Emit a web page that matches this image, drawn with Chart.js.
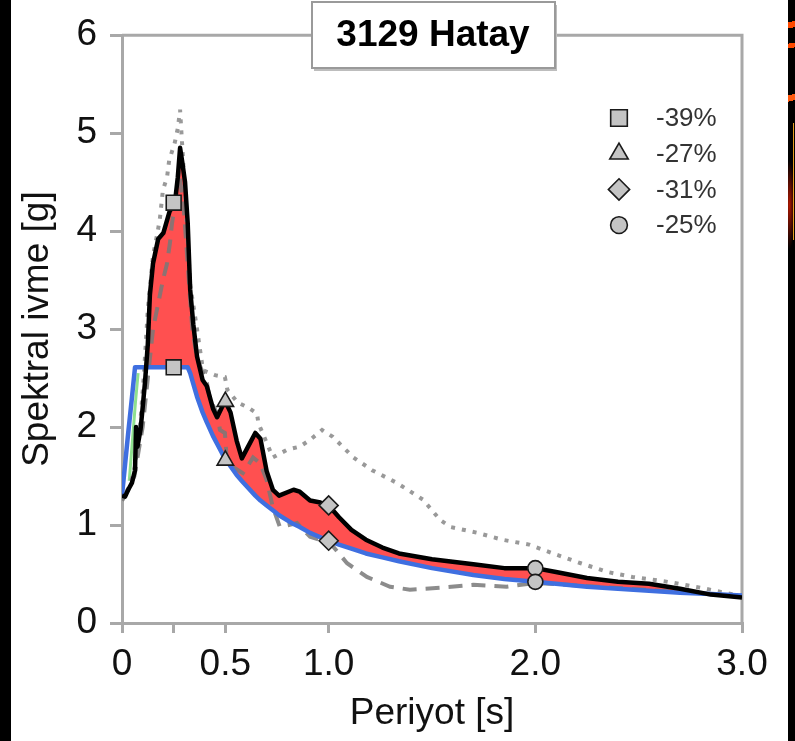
<!DOCTYPE html>
<html lang="tr">
<head>
<meta charset="utf-8">
<title>3129 Hatay</title>
<script src="https://cdn.jsdelivr.net/npm/chart.js@4.4.1/dist/chart.umd.min.js"></script>
<style>
  html, body { margin: 0; padding: 0; background: #fff; }
  #kutu { position: relative; width: 795px; height: 741px; overflow: hidden; }
  #grafik { position: absolute; left: 0; top: 0; }
  .kenar { position: absolute; top: 0; height: 741px; background: #000; }
  #solKenar { left: 0; width: 11px; }
  #sagKenar {
    left: 788px; width: 7px;
    background:
      linear-gradient(170deg, transparent 0 20%, #ff4a00 20% 30%, transparent 30% 55%, #ff4a00 55% 63%, transparent 63% 100%) 0 10px / 7px 60px no-repeat,
      linear-gradient(165deg, transparent 0 30%, #ff5a10 30% 42%, transparent 42% 100%) 0 80px / 7px 50px no-repeat,
      linear-gradient(180deg, transparent 0 10%, #e8a020 10% 100%) 5px 110px / 1px 130px no-repeat,
      radial-gradient(ellipse at 20% 50%, #b01800 0, transparent 70%) 0 160px / 7px 90px no-repeat,
      #000;
  }
</style>
</head>
<body>
<div id="kutu">
  <canvas id="grafik" width="795" height="741"></canvas>
  <div class="kenar" id="solKenar"></div>
  <div class="kenar" id="sagKenar"></div>
</div>
<script>
  const baslik = '3129 Hatay';
  const xBaslik = 'Periyot [s]';
  const yBaslik = 'Spektral ivme [g]';

  // x ekseni tik degerleri ve etiketleri (0.25'te etiketsiz tik var)
  const xTikler = [0, 0.25, 0.5, 1.0, 2.0, 3.0];
  const xTikEtiketleri = ['0', '', '0.5', '1.0', '2.0', '3.0'];

  // kayit (siyah) ve tasarim spektrumu (mavi) ayni periyotlarda
  const periyotlar = [0, 0.015, 0.03, 0.048, 0.063, 0.068, 0.075, 0.09, 0.1, 0.111, 0.125, 0.135, 0.15, 0.175, 0.2,
    0.23, 0.256, 0.27, 0.281, 0.292, 0.305, 0.318, 0.33, 0.345, 0.363, 0.39, 0.41, 0.44, 0.46, 0.49, 0.5,
    0.525, 0.555, 0.58, 0.61, 0.645, 0.67, 0.7, 0.73, 0.76, 0.83, 0.86, 0.91, 0.96, 1.0, 1.05, 1.11, 1.18,
    1.26, 1.34, 1.5, 1.7, 1.85, 2.0, 2.1, 2.25, 2.4, 2.55, 2.7, 2.85, 3.0];
  const kayit = [1.30, 1.29, 1.36, 1.43, 1.56, 2.00, 1.80, 1.98, 2.20, 2.45, 2.85, 3.35, 3.67, 3.92, 3.98,
    4.20, 4.29, 4.55, 4.85, 4.70, 4.50, 4.08, 3.40, 3.05, 2.72, 2.48, 2.42, 2.19, 2.10, 2.23, 2.26,
    2.15, 1.86, 1.68, 1.80, 1.94, 1.88, 1.55, 1.36, 1.30, 1.36, 1.34, 1.25, 1.23, 1.20, 1.08, 0.95, 0.85,
    0.77, 0.71, 0.65, 0.60, 0.56, 0.56, 0.52, 0.46, 0.42, 0.40, 0.35, 0.29, 0.26];
  const tasarim = [1.30, 1.62, 1.94, 2.30, 2.61, 2.61, 2.61, 2.61, 2.61, 2.61, 2.61, 2.61, 2.61, 2.61, 2.61,
    2.61, 2.61, 2.61, 2.61, 2.61, 2.61, 2.61, 2.55, 2.44, 2.31, 2.15, 2.05, 1.91, 1.83, 1.71, 1.68,
    1.60, 1.51, 1.45, 1.38, 1.30, 1.25, 1.20, 1.15, 1.10, 1.01, 0.98, 0.92, 0.875, 0.84, 0.80, 0.76, 0.71,
    0.67, 0.63, 0.56, 0.49, 0.45, 0.42, 0.40, 0.37, 0.35, 0.33, 0.31, 0.295, 0.28];

  // noktali gri egri
  const noktaliT = [0, 0.03, 0.063, 0.085, 0.105, 0.125, 0.15, 0.174, 0.184, 0.198, 0.218, 0.228, 0.255, 0.27,
    0.281, 0.292, 0.31, 0.33, 0.363, 0.392, 0.45, 0.498, 0.51, 0.56, 0.61, 0.653, 0.66, 0.73, 0.8, 0.86,
    0.91, 0.968, 1.02, 1.12, 1.21, 1.33, 1.456, 1.54, 1.59, 1.72, 1.84, 1.97, 2.085, 2.22, 2.35, 2.47,
    2.64, 2.8, 2.96, 3.0];
  const noktaliS = [1.25, 1.35, 1.60, 1.95, 2.50, 3.20, 3.75, 4.01, 4.14, 4.42, 4.55, 4.72, 4.90, 5.05,
    5.24, 4.85, 4.20, 3.45, 3.00, 2.58, 2.53, 2.51, 2.38, 2.25, 2.20, 2.14, 2.04, 1.69, 1.77, 1.80,
    1.87, 1.97, 1.90, 1.69, 1.56, 1.43, 1.26, 1.05, 0.98, 0.92, 0.85, 0.80, 0.71, 0.61, 0.52, 0.47,
    0.42, 0.36, 0.29, 0.27];

  // kesikli gri egri
  const kesikliT = [0, 0.06, 0.1, 0.15, 0.198, 0.218, 0.232, 0.242, 0.266, 0.275, 0.3, 0.32, 0.34, 0.363,
    0.411, 0.426, 0.46, 0.474, 0.498, 0.508, 0.585, 0.605, 0.634, 0.668, 0.7, 0.73, 0.764, 0.847, 0.91,
    1.006, 1.089, 1.185, 1.297, 1.393, 1.54, 1.7, 1.86, 2.0, 2.3, 2.6, 3.0];
  const kesikliS = [1.25, 1.50, 2.00, 3.00, 3.50, 3.67, 3.88, 4.08, 4.42, 4.62, 4.20, 3.60, 3.00, 2.70,
    2.45, 2.28, 2.14, 1.97, 1.94, 1.63, 1.53, 1.59, 1.69, 1.63, 1.46, 1.18, 0.98, 1.02, 0.88,
    0.82, 0.61, 0.47, 0.37, 0.34, 0.36, 0.39, 0.37, 0.41, 0.37, 0.33, 0.27];

  // kisa yesil cizgi
  const yesilT = [0.035, 0.05, 0.065, 0.078];
  const yesilS = [1.45, 1.85, 2.25, 2.55];

  // isaretler: ust ve alt degerler
  const kareNoktalar = [[0.25, 4.29], [0.25, 2.61]];
  const ucgenNoktalar = [[0.5, 2.26], [0.5, 1.66]];
  const elmasNoktalar = [[1.0, 1.20], [1.0, 0.84]];
  const daireNoktalar = [[2.0, 0.56], [2.0, 0.42]];
  const aciklamaEtiketleri = ['-39%', '-27%', '-31%', '-25%'];

  const yazi = '"Liberation Sans", Arial, sans-serif';
  const eksenGri = '#a8a8a8';

  function noktalar(xs, ys) {
    return xs.map((x, i) => ({ x: x, y: ys[i] }));
  }
  function ciftler(arr) {
    return arr.map(p => ({ x: p[0], y: p[1] }));
  }

  const isaretler = [
    { stil: 'rect', r: 10.5, veri: kareNoktalar },
    { stil: 'triangle', r: 9.5, veri: ucgenNoktalar },
    { stil: 'rectRot', r: 9.5, veri: elmasNoktalar },
    { stil: 'circle', r: 7.5, veri: daireNoktalar }
  ];

  function sekilCiz(ctx, stil, x, y, r) {
    ctx.beginPath();
    if (stil === 'rect') {
      const s = r * Math.SQRT1_2;
      ctx.rect(x - s, y - s, 2 * s, 2 * s);
    } else if (stil === 'triangle') {
      ctx.moveTo(x, y - r);
      ctx.lineTo(x + r * 0.866, y + r * 0.5);
      ctx.lineTo(x - r * 0.866, y + r * 0.5);
      ctx.closePath();
    } else if (stil === 'rectRot') {
      ctx.moveTo(x, y - r);
      ctx.lineTo(x + r, y);
      ctx.lineTo(x, y + r);
      ctx.lineTo(x - r, y);
      ctx.closePath();
    } else {
      ctx.arc(x, y, r, 0, Math.PI * 2);
    }
    ctx.fillStyle = '#c4c4c4';
    ctx.fill();
    ctx.lineWidth = 1.6;
    ctx.strokeStyle = '#1a1a1a';
    ctx.stroke();
  }

  const cercevePlugin = {
    id: 'cerceve',
    beforeDatasetsDraw(chart) {
      const { ctx, chartArea: a } = chart;
      ctx.save();
      ctx.strokeStyle = eksenGri;
      ctx.lineWidth = 3;
      ctx.beginPath();
      ctx.moveTo(a.left, a.top);
      ctx.lineTo(a.right, a.top);
      ctx.lineTo(a.right, a.bottom);
      ctx.stroke();
      ctx.restore();
    },
    afterDraw(chart) {
      const ctx = chart.ctx;
      ctx.save();
      // baslik kutusu
      ctx.fillStyle = '#bdbdbd';
      ctx.fillRect(314, 5, 243, 66);
      ctx.fillStyle = '#fff';
      ctx.fillRect(312, 2, 243, 66);
      ctx.strokeStyle = '#9a9a9a';
      ctx.lineWidth = 2;
      ctx.strokeRect(312, 2, 243, 66);
      ctx.fillStyle = '#000';
      ctx.font = 'bold 37px ' + yazi;
      ctx.textAlign = 'center';
      ctx.textBaseline = 'middle';
      ctx.fillText(baslik, 433, 36);

      // aciklama
      ctx.font = '26px ' + yazi;
      ctx.textAlign = 'left';
      isaretler.forEach((m, i) => {
        const y = 118 + i * 35.7;
        sekilCiz(ctx, m.stil, 619, y, m.r * 1.12);
        ctx.fillStyle = '#333';
        ctx.fillText(aciklamaEtiketleri[i], 656, y + 1);
      });
      ctx.restore();
    }
  };

  const veriSetleri = [
    {
      label: 'kayit',
      data: noktalar(periyotlar, kayit),
      borderColor: '#000',
      borderWidth: 4.5,
      pointRadius: 0,
      borderJoinStyle: 'round',
      fill: { target: 1, above: 'rgb(255, 80, 80)', below: 'rgba(0,0,0,0)' },
      order: 2
    },
    {
      label: 'tasarim',
      data: noktalar(periyotlar, tasarim),
      borderColor: '#3f6fe0',
      borderWidth: 4.5,
      pointRadius: 0,
      borderJoinStyle: 'round',
      fill: false,
      order: 3
    },
    {
      label: 'noktali',
      data: noktalar(noktaliT, noktaliS),
      borderColor: '#999',
      borderWidth: 4,
      borderDash: [4, 7],
      pointRadius: 0,
      fill: false,
      order: 5
    },
    {
      label: 'kesikli',
      data: noktalar(kesikliT, kesikliS),
      borderColor: 'rgba(120,120,120,0.85)',
      borderWidth: 4,
      borderDash: [14, 9],
      pointRadius: 0,
      fill: false,
      order: 4
    },
    {
      label: 'yesil',
      data: noktalar(yesilT, yesilS),
      borderColor: '#8fe08f',
      borderWidth: 3,
      pointRadius: 0,
      fill: false,
      order: 6
    }
  ];

  isaretler.forEach(m => {
    veriSetleri.push({
      label: m.stil,
      data: ciftler(m.veri),
      showLine: false,
      pointStyle: m.stil,
      pointRadius: m.r,
      pointBackgroundColor: '#c4c4c4',
      pointBorderColor: '#1a1a1a',
      pointBorderWidth: 1.6,
      order: 0
    });
  });

  new Chart(document.getElementById('grafik'), {
    type: 'line',
    data: { datasets: veriSetleri },
    plugins: [cercevePlugin],
    options: {
      responsive: false,
      animation: false,
      layout: { padding: { left: 0, right: 53, top: 35, bottom: 0 } },
      plugins: {
        legend: { display: false },
        tooltip: { enabled: false },
        filler: { drawTime: 'beforeDatasetsDraw' }
      },
      elements: { line: { tension: 0 } },
      scales: {
        x: {
          type: 'linear',
          min: 0,
          max: 3,
          afterFit: s => { s.height = 118; },
          afterBuildTicks: s => { s.ticks = xTikler.map(v => ({ value: v })); },
          ticks: {
            autoSkip: false,
            maxRotation: 0,
            padding: 10,
            color: '#111',
            font: { family: yazi, size: 37 },
            callback: v => xTikEtiketleri[xTikler.indexOf(v)]
          },
          grid: { drawOnChartArea: false, drawTicks: true, tickLength: 10, color: eksenGri, lineWidth: 3 },
          border: { color: eksenGri, width: 3 },
          title: {
            display: true,
            text: xBaslik,
            color: '#111',
            font: { family: yazi, size: 37 },
            padding: { top: 0, bottom: 5 }
          }
        },
        y: {
          min: 0,
          max: 6,
          afterFit: s => { s.width = 122; },
          ticks: {
            stepSize: 1,
            padding: 13,
            color: '#111',
            font: { family: yazi, size: 37 }
          },
          grid: { drawOnChartArea: false, drawTicks: true, tickLength: 12, color: eksenGri, lineWidth: 3 },
          border: { color: eksenGri, width: 3 },
          title: {
            display: true,
            text: yBaslik,
            color: '#111',
            font: { family: yazi, size: 37 },
            padding: { top: 16, bottom: 0 }
          }
        }
      }
    }
  });
</script>
</body>
</html>
